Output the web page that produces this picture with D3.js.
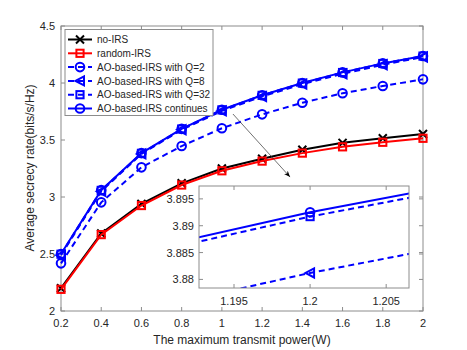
<!DOCTYPE html>
<html>
<head>
<meta charset="utf-8">
<script src="https://cdn.jsdelivr.net/npm/d3@7"></script>
<style>
  body { margin: 0; background: #fff; }
  svg text { font-family: "Liberation Sans", Arial, sans-serif; fill: #262626; }
</style>
</head>
<body>
<svg id="chart" width="467" height="350"></svg>
<script>
// data
const power = [0.2, 0.4, 0.6, 0.8, 1.0, 1.2, 1.4, 1.6, 1.8, 2.0];
const noIRS = [2.20, 2.68, 2.94, 3.12, 3.25, 3.335, 3.415, 3.475, 3.515, 3.553];
const randomIRS = [2.19, 2.67, 2.925, 3.105, 3.23, 3.315, 3.385, 3.44, 3.48, 3.515];
const aoQ2 = [2.418, 2.953, 3.26, 3.447, 3.603, 3.725, 3.827, 3.91, 3.974, 4.032];
const aoQ8 = [2.49, 3.05, 3.378, 3.59, 3.755, 3.8812, 3.99, 4.08, 4.16, 4.228];
const aoQ32 = [2.498, 3.058, 3.383, 3.596, 3.764, 3.8917, 3.999, 4.092, 4.171, 4.236];
const aoCont = [2.50, 3.06, 3.385, 3.598, 3.765, 3.8925, 4.0, 4.093, 4.172, 4.237];

const xTicks = [0.2, 0.4, 0.6, 0.8, 1, 1.2, 1.4, 1.6, 1.8, 2];
const yTicks = [2, 2.5, 3, 3.5, 4, 4.5];
const insetXTicks = [1.195, 1.2, 1.205];
const insetYTicks = [3.88, 3.885, 3.89, 3.895];

const series = [
  { name: "no-IRS", values: noIRS, color: "#000000", dash: null, marker: "x" },
  { name: "random-IRS", values: randomIRS, color: "#ff0000", dash: null, marker: "square" },
  { name: "AO-based-IRS with Q=2", values: aoQ2, color: "#0000ff", dash: "6,4", marker: "circle" },
  { name: "AO-based-IRS with Q=8", values: aoQ8, color: "#0000ff", dash: "6,4", marker: "triangle" },
  { name: "AO-based-IRS with Q=32", values: aoQ32, color: "#0000ff", dash: "6,4", marker: "square" },
  { name: "AO-based-IRS continues", values: aoCont, color: "#0000ff", dash: null, marker: "circle" }
];

const AXIS = "#8c8c8c";
const svg = d3.select("#chart");

const x = d3.scaleLinear().domain([0.2, 2]).range([61, 423]);
const y = d3.scaleLinear().domain([2, 4.5]).range([311, 26]);

// draws one marker shape at (cx, cy)
function drawMarker(g, type, cx, cy, color) {
  if (type === "circle") {
    g.append("circle").attr("cx", cx).attr("cy", cy).attr("r", 4.3)
      .attr("fill", "none").attr("stroke", color).attr("stroke-width", 2);
  } else if (type === "square") {
    g.append("rect").attr("x", cx - 3.6).attr("y", cy - 3.6).attr("width", 7.2).attr("height", 7.2)
      .attr("fill", "none").attr("stroke", color).attr("stroke-width", 2);
  } else if (type === "triangle") {
    g.append("path").attr("d", `M${cx - 4.5},${cy} L${cx + 4},${cy - 4.5} L${cx + 4},${cy + 4.5} Z`)
      .attr("fill", "none").attr("stroke", color).attr("stroke-width", 2);
  } else if (type === "x") {
    g.append("path").attr("d", `M${cx - 4},${cy - 4} L${cx + 4},${cy + 4} M${cx - 4},${cy + 4} L${cx + 4},${cy - 4}`)
      .attr("stroke", color).attr("stroke-width", 2);
  }
}

// main plot box + ticks
const axes = svg.append("g");
axes.append("rect").attr("x", 61).attr("y", 26).attr("width", 362).attr("height", 285)
  .attr("fill", "#fff").attr("stroke", AXIS).attr("stroke-width", 1);

xTicks.forEach(t => {
  axes.append("line").attr("x1", x(t)).attr("x2", x(t)).attr("y1", 311).attr("y2", 307).attr("stroke", AXIS);
  axes.append("line").attr("x1", x(t)).attr("x2", x(t)).attr("y1", 26).attr("y2", 30).attr("stroke", AXIS);
  axes.append("text").attr("x", x(t)).attr("y", 327).attr("text-anchor", "middle")
    .attr("font-size", 11).text(d3.format("~g")(t));
});
yTicks.forEach(t => {
  axes.append("line").attr("x1", 61).attr("x2", 65).attr("y1", y(t)).attr("y2", y(t)).attr("stroke", AXIS);
  axes.append("line").attr("x1", 423).attr("x2", 419).attr("y1", y(t)).attr("y2", y(t)).attr("stroke", AXIS);
  axes.append("text").attr("x", 55).attr("y", y(t) + 4).attr("text-anchor", "end")
    .attr("font-size", 11).text(d3.format("~g")(t));
});

svg.append("text").attr("x", 242).attr("y", 344).attr("text-anchor", "middle")
  .attr("font-size", 12).text("The maximum transmit power(W)");
svg.append("text").attr("transform", "translate(34,168) rotate(-90)").attr("text-anchor", "middle")
  .attr("font-size", 12).text("Average secrecy rate(bits/s/Hz)");

// main lines
const line = d3.line().x((d, i) => x(power[i])).y(d => y(d));
const plot = svg.append("g");
series.forEach(s => {
  plot.append("path").datum(s.values).attr("d", line)
    .attr("fill", "none").attr("stroke", s.color).attr("stroke-width", 2)
    .attr("stroke-dasharray", s.dash);
  const mg = plot.append("g");
  s.values.forEach((v, i) => drawMarker(mg, s.marker, x(power[i]), y(v), s.color));
});

// annotation arrow
svg.append("defs").append("marker").attr("id", "head")
  .attr("viewBox", "0 0 10 10").attr("refX", 10).attr("refY", 5)
  .attr("markerWidth", 9).attr("markerHeight", 9).attr("orient", "auto")
  .append("path").attr("d", "M0,1 L10,5 L0,9 L3,5 Z").attr("fill", "#000");
svg.append("line")
  .attr("x1", x(1.055)).attr("y1", y(3.728)).attr("x2", x(1.339)).attr("y2", y(3.175))
  .attr("stroke", "#333").attr("stroke-width", 0.7).attr("marker-end", "url(#head)");

// inset zoom
const ix = d3.scaleLinear().domain([1.1927, 1.2065]).range([199, 409]);
const iy = d3.scaleLinear().domain([3.8784, 3.8974]).range([288, 186]);
const inset = svg.append("g");
inset.append("rect").attr("x", 199).attr("y", 186).attr("width", 210).attr("height", 102)
  .attr("fill", "#fff");
svg.select("defs").append("clipPath").attr("id", "insetClip")
  .append("rect").attr("x", 199).attr("y", 186).attr("width", 210).attr("height", 102);

const iline = d3.line().x((d, i) => ix(power[i])).y(d => iy(d));
const ip = inset.append("g").attr("clip-path", "url(#insetClip)");
series.forEach(s => {
  ip.append("path").datum(s.values).attr("d", iline)
    .attr("fill", "none").attr("stroke", s.color).attr("stroke-width", 2)
    .attr("stroke-dasharray", s.dash);
  const mg = ip.append("g");
  s.values.forEach((v, i) => drawMarker(mg, s.marker, ix(power[i]), iy(v), s.color));
});

inset.append("rect").attr("x", 199).attr("y", 186).attr("width", 210).attr("height", 102)
  .attr("fill", "none").attr("stroke", AXIS).attr("stroke-width", 1);
insetXTicks.forEach(t => {
  inset.append("line").attr("x1", ix(t)).attr("x2", ix(t)).attr("y1", 288).attr("y2", 284).attr("stroke", AXIS);
  inset.append("line").attr("x1", ix(t)).attr("x2", ix(t)).attr("y1", 186).attr("y2", 190).attr("stroke", AXIS);
  inset.append("text").attr("x", ix(t)).attr("y", 305).attr("text-anchor", "middle")
    .attr("font-size", 11).text(d3.format("~g")(t));
});
insetYTicks.forEach(t => {
  inset.append("line").attr("x1", 199).attr("x2", 203).attr("y1", iy(t)).attr("y2", iy(t)).attr("stroke", AXIS);
  inset.append("line").attr("x1", 423).attr("x2", 419).attr("y1", iy(t)).attr("y2", iy(t)).attr("stroke", AXIS);
  inset.append("text").attr("x", 194).attr("y", iy(t) + 4).attr("text-anchor", "end")
    .attr("font-size", 11).text(d3.format("~g")(t));
});

// legend
const legend = svg.append("g");
legend.append("rect").attr("x", 65).attr("y", 29.5).attr("width", 148).attr("height", 86)
  .attr("fill", "#fff").attr("stroke", AXIS).attr("stroke-width", 1);
series.forEach((s, i) => {
  const ly = 39.5 + i * 13.8;
  legend.append("line").attr("x1", 68).attr("x2", 92).attr("y1", ly).attr("y2", ly)
    .attr("stroke", s.color).attr("stroke-width", 2).attr("stroke-dasharray", s.dash);
  drawMarker(legend, s.marker, 80, ly, s.color);
  legend.append("text").attr("x", 97).attr("y", ly + 3.6).attr("font-size", 10).text(s.name);
});
</script>
</body>
</html>
